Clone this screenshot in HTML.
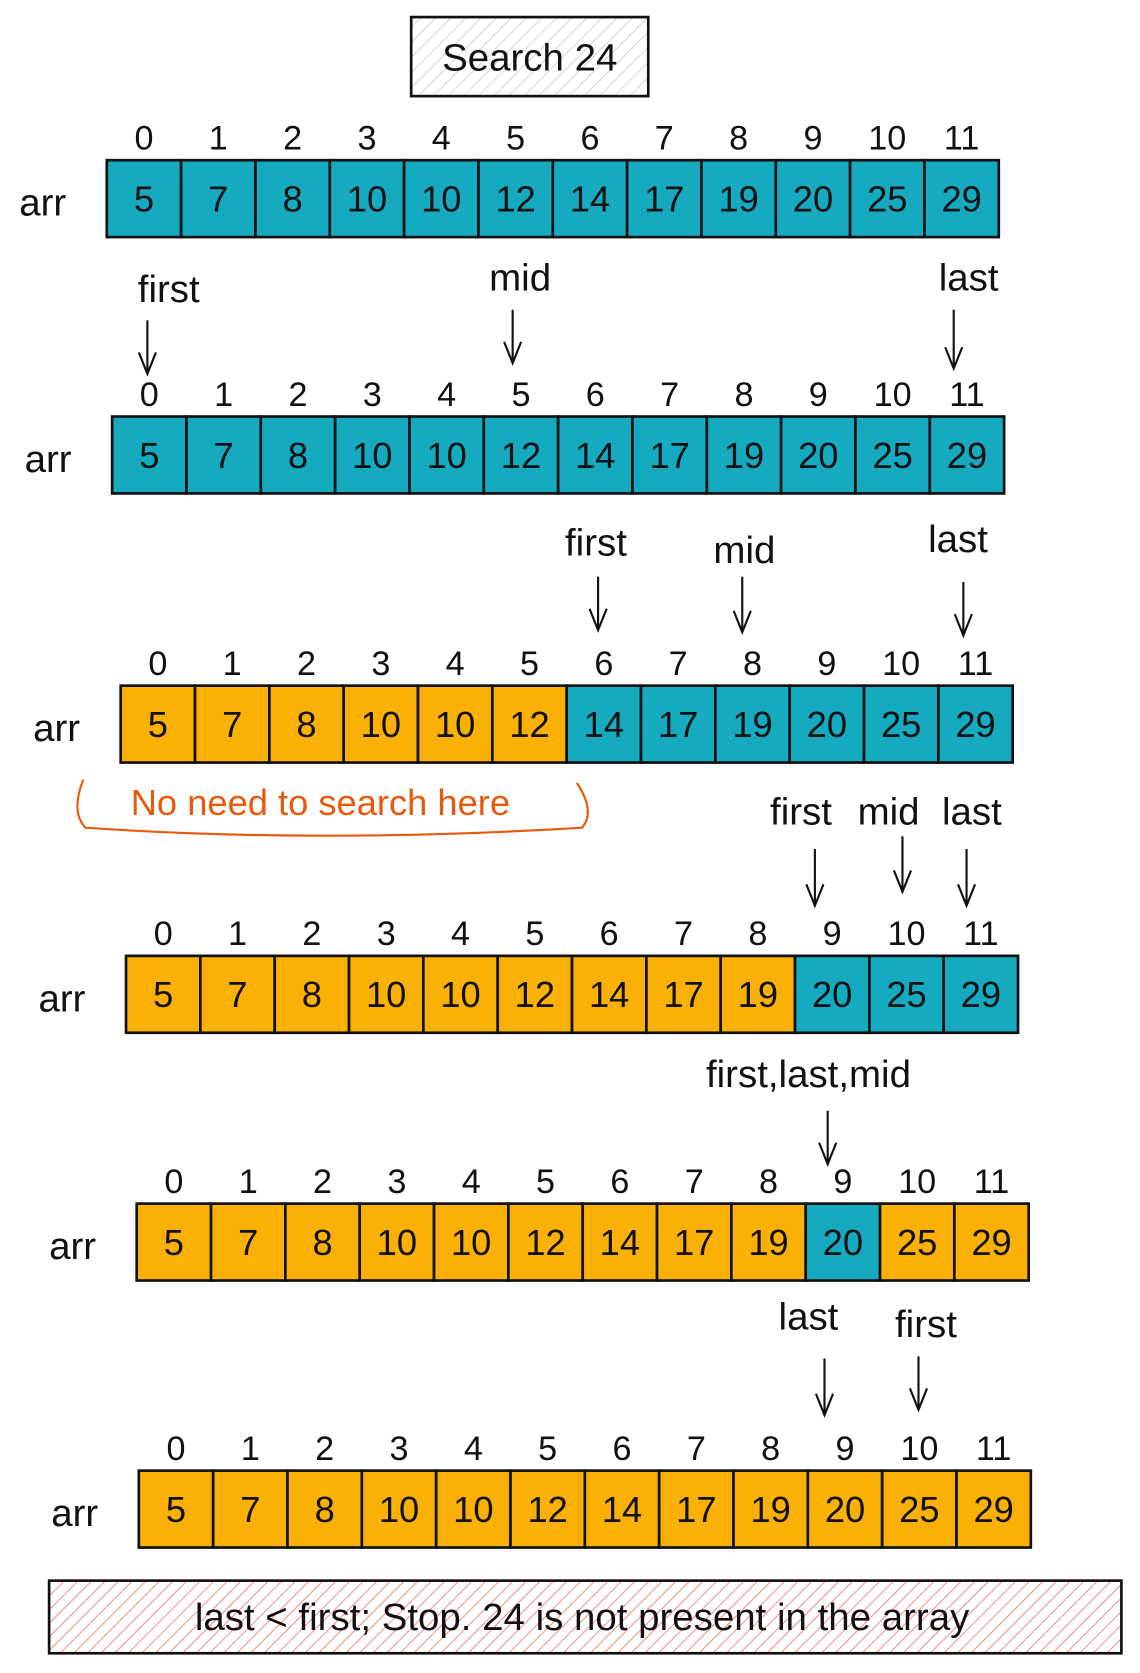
<!DOCTYPE html>
<html><head><meta charset="utf-8">
<style>
html,body{margin:0;padding:0;background:#fff;}
svg{display:block;}
text{font-family:"Liberation Sans",sans-serif;fill:#111;}
</style></head>
<body>
<svg id="chart" width="1140" height="1673" viewBox="0 0 1140 1673" xmlns="http://www.w3.org/2000/svg">
<defs>
<pattern id="hatchGray" width="10" height="10" patternUnits="userSpaceOnUse" patternTransform="rotate(45)">
<line x1="0" y1="0" x2="0" y2="10" stroke="#c8ccd0" stroke-width="1.5"/></pattern>
<pattern id="hatchRed" width="9" height="9" patternUnits="userSpaceOnUse" patternTransform="rotate(45)">
<line x1="0" y1="0" x2="0" y2="9" stroke="#ff6b6b" stroke-width="1.5"/></pattern>
</defs>
<g transform="scale(1.068)">
<g>
<rect x="385" y="16" width="222" height="74" fill="url(#hatchGray)" stroke="#111" stroke-width="2.5"/>
<text x="496" y="66" font-size="36" text-anchor="middle">Search 24</text>
</g>
<g>
<rect x="46" y="1480" width="1004" height="68" fill="url(#hatchRed)" stroke="#111" stroke-width="2.5"/>
<text x="545" y="1526" font-size="36" text-anchor="middle">last &lt; first; Stop. 24 is not present in the array</text>
</g>
<g>
<text x="300" y="763" font-size="34" text-anchor="middle" style="fill:#e8590c">No need to search here</text>
<path d="M78,730 Q66,760 80,775 Q300,790 545,775 Q558,760 540,733" fill="none" stroke="#e8590c" stroke-width="2"/>
</g>
<g id="rows"></g>
</g>
</svg>
<script>
const values = [5,7,8,10,10,12,14,17,19,20,25,29];
const indices = ["0","1","2","3","4","5","6","7","8","9","10","11"];
const rowX = [100,105,113,118,128,130];
const rowY = [150,390,642,895,1127,1377];
const rowMask = [
 [0,0,0,0,0,0,0,0,0,0,0,0],
 [0,0,0,0,0,0,0,0,0,0,0,0],
 [1,1,1,1,1,1,0,0,0,0,0,0],
 [1,1,1,1,1,1,1,1,1,0,0,0],
 [1,1,1,1,1,1,1,1,1,0,1,1],
 [1,1,1,1,1,1,1,1,1,1,1,1]
];
const pointerRow = [1,1,1,2,2,2,3,3,3,4,5,5];
const pointerLabel = ["first","mid","last","first","mid","last","first","mid","last","first,last,mid","last","first"];
const pointerLX = [158,487,907,558,697,897,750,832,910,757,757,867];
const pointerLY = [283,272,272,520,527,517,772,772,772,1018,1245,1252];
const pointerAX = [138,480,893,560,695,902,763,845,905,775,772,860];
const pointerAY1 = [300,290,290,540,540,545,795,783,795,1040,1272,1270];
const pointerAY2 = [350,340,345,590,592,595,848,835,848,1090,1325,1320];

const CW = 69.6, CH = 72;
const NS = "http://www.w3.org/2000/svg";
const g = document.getElementById('rows');
function mk(tag, attrs, parent){ const e=document.createElementNS(NS,tag); for(const k in attrs) e.setAttribute(k,attrs[k]); parent.appendChild(e); return e; }
rowX.forEach((x0, r) => {
  const y0 = rowY[r];
  const rg = mk('g', {}, g);
  
  
  const lab = mk('text', {x: x0-82, y: y0+52, 'font-size': 36}, rg);
  lab.textContent = 'arr';
  
  
  values.forEach((v, i) => {
    const x = x0 + i*CW;
    const rect = mk('rect', {x: x, y: y0, width: CW, height: CH, fill: rowMask[r][i] ? '#fab005' : '#15aabf', stroke: '#111', 'stroke-width': 2.5}, rg);
    
    
    const t = mk('text', {x: x+CW/2, y: y0+48, 'font-size': 34, 'text-anchor': 'middle'}, rg);
    t.textContent = v;
    
    
    const it = mk('text', {x: x+CW/2, y: y0-10, 'font-size': 32, 'text-anchor': 'middle'}, rg);
    it.textContent = indices[i];
    
    
  });
});
pointerLabel.forEach((l, k) => {
  const pg = mk('g', {}, g);
  
  
  const t = mk('text', {x: pointerLX[k], y: pointerLY[k], 'font-size': 36, 'text-anchor': 'middle'}, pg);
  t.textContent = l;
  const ax = pointerAX[k], y1 = pointerAY1[k], y2 = pointerAY2[k];
  mk('line', {x1: ax, y1: y1, x2: ax, y2: y2, stroke: '#111', 'stroke-width': 2}, pg);
  mk('path', {d: `M${ax-8},${y2-20} L${ax},${y2} L${ax+8},${y2-20}`, fill: 'none', stroke: '#111', 'stroke-width': 2}, pg);
});
</script>
</body></html>
